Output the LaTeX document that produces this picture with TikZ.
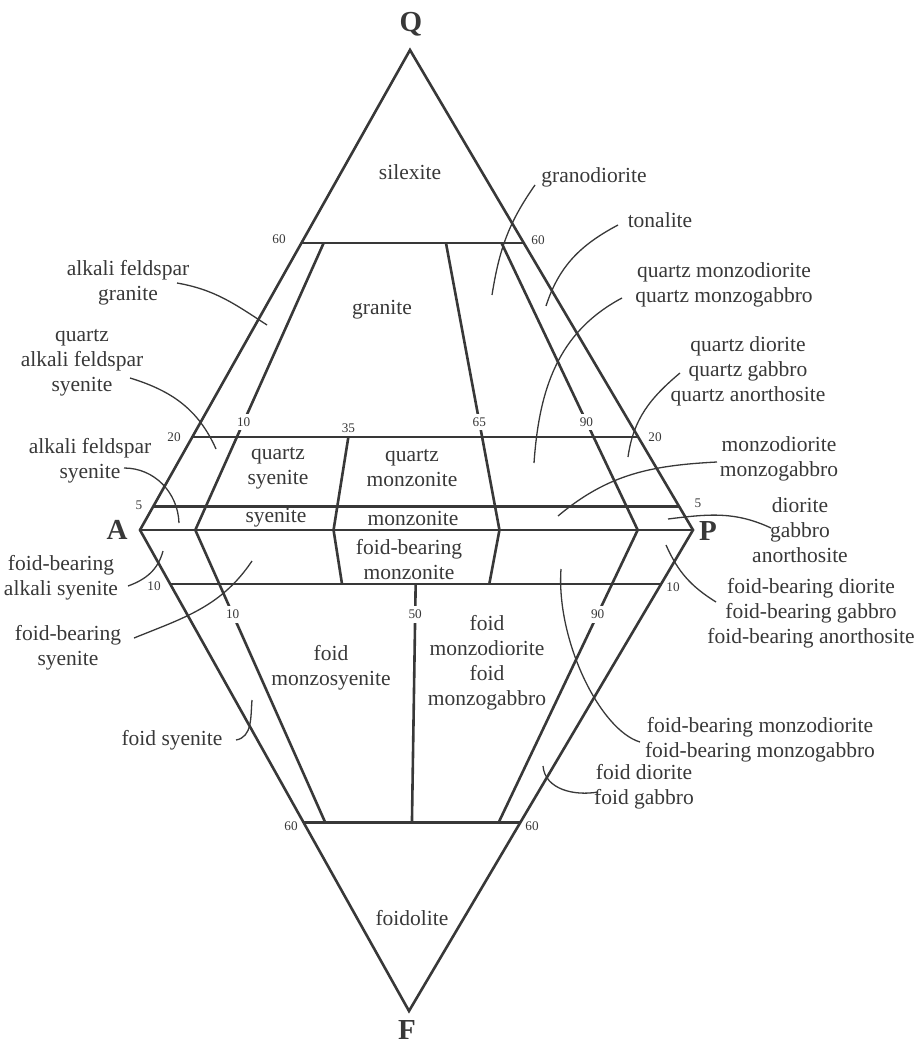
\documentclass[tikz,border=0pt]{standalone}
\usepackage{fontspec}
\setmainfont{Liberation Serif}
\usepackage{tikz}
\usetikzlibrary{calc}
\definecolor{ink}{HTML}{383838}
\newcommand{\rockfont}{\fontsize{10.75}{12.5}\selectfont}
\newcommand{\tickfont}{\fontsize{6.6}{7}\selectfont}
\newcommand{\apexfont}{\fontsize{14.5}{16}\selectfont\bfseries}
\tikzset{
  x=0.5pt, y=0.5pt,
  every node/.style={text=ink},
  % --- labels
  rock/.style  = {font=\rockfont, align=center, inner sep=0pt},
  tick/.style  = {font=\tickfont, inner sep=1pt},
  cut/.style   = {tick, fill=white, inner sep=2pt},
  apex/.style  = {font=\apexfont, inner sep=0pt},
  % --- lines
  bound/.style = {draw=ink, line width=1.3pt, line join=miter},
  lead/.style  = {draw=ink, line width=0.65pt},
}

\begin{document}
\begin{tikzpicture}
  \useasboundingbox (0,0) rectangle (919,-1043);
  % corners
  \coordinate (Q) at (410,-50);
  \coordinate (A) at (140,-530);
  \coordinate (P) at (693,-530);
  \coordinate (F) at (409,-1011);
  \foreach \r in {10,35,50,65,90}
    \coordinate (b\r) at ($(A)!\r/100!(P)$);
  % levels as drawn (Q 60/20/5, F 10/60)
  \def\qa{0.598} \def\qb{0.194} \def\qc{0.049}
  \def\fa{0.112} \def\fb{0.608}

  % frame and field boundaries
  \draw[bound] (Q) -- (P) -- (F) -- (A) -- cycle;
  \draw[bound] (A) -- (P);
  \foreach \q in {\qa,\qb,\qc}
    \draw[bound] ($(A)!\q!(Q)$) -- ($(P)!\q!(Q)$);
  \foreach \f in {\fa,\fb}
    \draw[bound] ($(A)!\f!(F)$) -- ($(P)!\f!(F)$);
  \draw[bound] ($(b10)!\qa!(Q)$) -- (b10) -- ($(b10)!\fb!(F)$);
  \draw[bound] ($(b90)!\qa!(Q)$) -- (b90) -- ($(b90)!\fb!(F)$);
  \draw[bound] ($(b65)!\qa!(Q)$) -- (b65) -- ($(b65)!\fa!(F)$);
  \draw[bound] ($(b35)!\qb!(Q)$) -- (b35) -- ($(b35)!\fa!(F)$);
  \draw[bound] ($(b50)!\fa!(F)$) -- ($(b50)!\fb!(F)$);

  % ratio ticks
  \foreach \r in {10,65,90}
    \node[cut] (t\r) at ($(b\r)!0.225!(Q)$) {\r};
  \node[tick, above=1pt] (t35) at ($(b35)!\qb!(Q)$) {35};
  \foreach \r in {10,50,90}
    \node[cut] (u\r) at ($(b\r)!0.175!(F)$) {\r};
  % edge ticks
  \node[tick] (q60l) at (279,-239) {60};
  \node[tick] (q60r) at (538,-240) {60};
  \node[tick] (q20l) at (174,-437) {20};
  \node[tick] (q20r) at (655,-437) {20};
  \node[tick] (q5l)  at (139,-505) {5};
  \node[tick] (q5r)  at (698,-503) {5};
  \node[tick] (f10l) at (154,-586) {10};
  \node[tick] (f10r) at (673,-587) {10};
  \node[tick] (f60l) at (291,-826) {60};
  \node[tick] (f60r) at (532,-826) {60};

  % corners
  \node[apex] (lQ) at (411,-24) {Q};
  \node[apex] (lA) at (117,-530) {A};
  \node[apex] (lP) at (708,-531) {P};
  \node[apex] (lF) at (407,-1030) {F};

  % names inside the fields
  \node[rock] (silexite)  at (410,-172) {silexite};
  \node[rock] (granite)   at (382,-310) {granite};
  \node[rock] (qsyen)     at (278,-468) {quartz\\syenite};
  \node[rock] (qmonz)     at (412,-468) {quartz\\monzonite};
  \node[rock] (syen)      at (276,-518) {syenite};
  \node[rock] (monz)      at (413,-518) {monzonite};
  \node[rock] (fbmonz)    at (409,-560) {foid-bearing\\monzonite};
  \node[rock] (fmsyen)    at (331,-668) {foid\\monzosyenite};
  \node[rock] (fmdio)     at (487,-663) {foid\\monzodiorite\\foid\\monzogabbro};
  \node[rock] (foidolite) at (412,-918) {foidolite};

  % names outside, with leaders
  \node[rock] (granodio) at (594,-177) {granodiorite};
  \node[rock] (tonal)    at (660,-220) {tonalite};
  \node[rock] (qmzdio)   at (724,-285) {quartz monzodiorite\\quartz monzogabbro};
  \node[rock] (qdio)     at (748,-371.5) {quartz diorite\\quartz gabbro\\quartz anorthosite};
  \node[rock] (mzdio)    at (779,-458.5) {monzodiorite\\monzogabbro};
  \node[rock] (dio)      at (800,-530) {diorite\\gabbro\\anorthosite};
  \node[rock] (fbdio)    at (811,-613) {foid-bearing diorite\\foid-bearing gabbro\\foid-bearing anorthosite};
  \node[rock] (fbmzdio)  at (760,-740) {foid-bearing monzodiorite\\foid-bearing monzogabbro};
  \node[rock] (fdio)     at (644,-787) {foid diorite\\foid gabbro};
  \node[rock] (afgran)   at (128,-282.5) {alkali feldspar\\granite};
  \node[rock] (qafsyen)  at (82,-363) {quartz\\alkali feldspar\\syenite};
  \node[rock] (afsyen)   at (90,-461) {alkali feldspar\\syenite};
  \node[rock] (fbasyen)  at (61,-577.5) {foid-bearing\\alkali syenite};
  \node[rock] (fbsyen)   at (68,-648) {foid-bearing\\syenite};
  \node[rock] (fsyen)    at (172,-740) {foid syenite};

  \coordinate (h-granodio) at (492,-295);
  \coordinate (h-tonal)    at (546,-306);
  \coordinate (h-qmzdio)   at (534,-463);
  \coordinate (h-qdio)     at (628,-457);
  \coordinate (h-mzdio)    at (558,-516);
  \coordinate (h-dio)      at (668,-519);
  \coordinate (h-fbdio)    at (666,-545);
  \coordinate (h-fbmzdio)  at (561,-569);
  \coordinate (h-fdio)     at (543,-766);
  \coordinate (h-afgran)   at (267,-325);
  \coordinate (h-qafsyen)  at (216,-449);
  \coordinate (h-afsyen)   at (179,-523);
  \coordinate (h-fbasyen)  at (163,-551);
  \coordinate (h-fbsyen)   at (252,-561);
  \coordinate (h-fsyen)    at (252,-700);

  \draw[lead] ([shift={(-59,-8)}]granodio.center) to[out=235,in=81] (h-granodio);
  \draw[lead] ([shift={(-42,-5)}]tonal.center) to[out=208,in=72] (h-tonal);
  \draw[lead] ([shift={(-102,-13)}]qmzdio.center) to[out=208,in=86] (h-qmzdio);
  \draw[lead] ([shift={(-68,-1.5)}]qdio.center) to[out=220,in=82] (h-qdio);
  \draw[lead] ([shift={(-62,-3.5)}]mzdio.center) to[out=183,in=40] (h-mzdio);
  \draw[lead] ([shift={(-29,2)}]dio.center) to[out=155,in=7] (h-dio);
  \draw[lead] ([shift={(-95,11)}]fbdio.center) to[out=148,in=294] (h-fbdio);
  \draw[lead] ([shift={(-120,-2)}]fbmzdio.center)
    .. controls +(-40,12) and +(-5,-71) .. (h-fbmzdio);
  \draw[lead] ([shift={(-46,-5)}]fdio.center) to[out=190,in=275] (h-fdio);
  \draw[lead] ([shift={(49,-0.5)}]afgran.center) to[out=-10,in=147] (h-afgran);
  \draw[lead] ([shift={(48,-15)}]qafsyen.center) to[out=-17,in=114] (h-qafsyen);
  \draw[lead] ([shift={(34,-7)}]afsyen.center) to[out=0,in=92] (h-afsyen);
  \draw[lead] ([shift={(67,-8.5)}]fbasyen.center) to[out=20,in=255] (h-fbasyen);
  \draw[lead] ([shift={(66,10)}]fbsyen.center) to[out=22,in=236] (h-fbsyen);
  \draw[lead] ([shift={(64,0)}]fsyen.center) to[out=10,in=265] (h-fsyen);
\end{tikzpicture}
\end{document}
